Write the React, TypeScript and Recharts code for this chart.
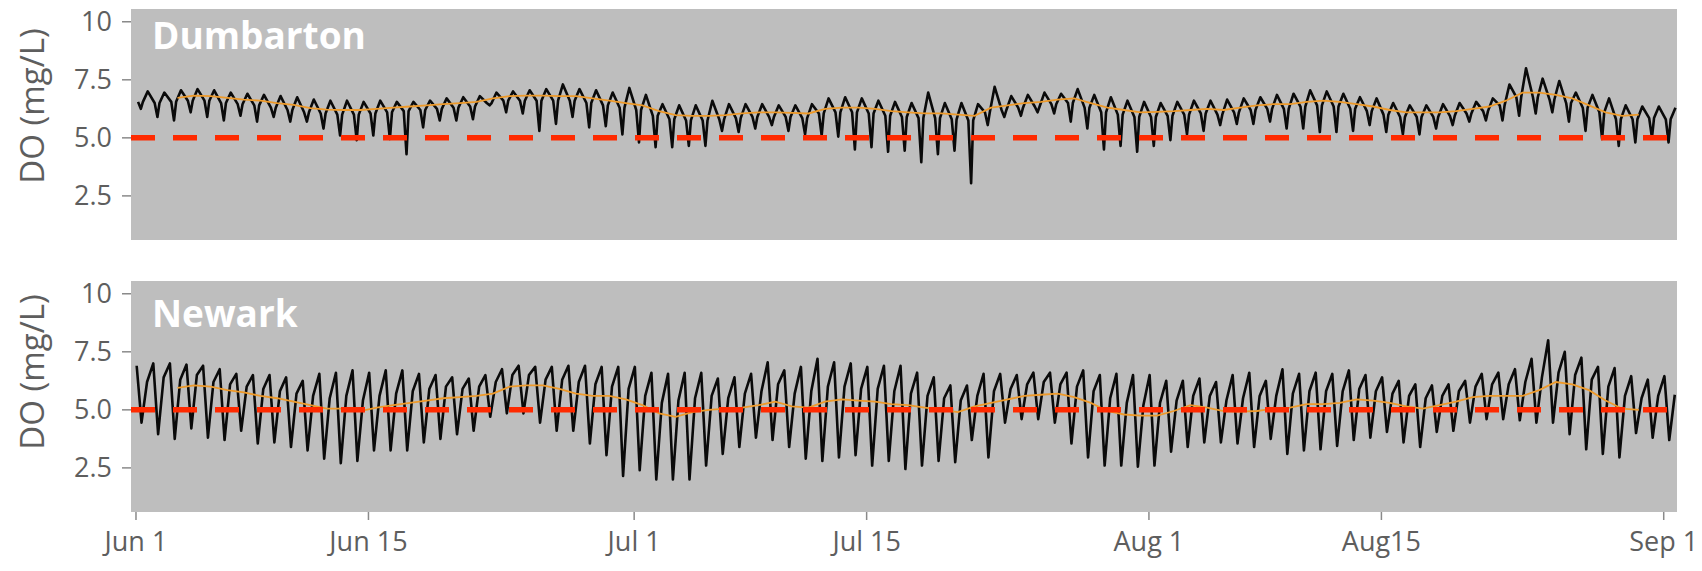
import React from 'react';
import { LineChart, Line, XAxis, YAxis, ReferenceLine, CartesianGrid } from 'recharts';

// ---- axes ----
const DATE_TICKS = [0, 14, 30, 44, 61, 75, 92]; // days since Jun 1
const DATE_LABELS = ['Jun 1', 'Jun 15', 'Jul 1', 'Jul 15', 'Aug 1', 'Aug15', 'Sep 1'];
const DO_TICKS = [2.5, 5, 7.5, 10];
const DO_LABELS = ['2.5', '5.0', '7.5', '10'];
const THRESHOLD = 5;
const STATIONS = ['Dumbarton', 'Newark'];

// ---- Dumbarton (per day: band top, band base, daily dip, 3-day mean) ----
const DUM_TOP = [
  7.0, 6.95, 7.05, 7.1, 7.05, 6.95, 6.9, 6.85, 6.8, 6.75, 6.65, 6.6, 6.6, 6.55,
  6.6, 6.55, 6.55, 6.6, 6.7, 6.75, 6.8, 6.95, 7.0, 7.05, 7.1, 7.3, 7.1, 7.05, 6.95,
  7.15, 6.85, 6.45, 6.4, 6.4, 6.6, 6.45, 6.45, 6.45, 6.4, 6.4, 6.45, 6.7, 6.75, 6.7,
  6.6, 6.55, 6.5, 6.95, 6.5, 6.5, 6.45, 7.2, 6.8, 6.85, 6.95, 6.9, 7.1, 6.85, 6.75,
  6.6, 6.55, 6.5, 6.55, 6.6, 6.6, 6.65, 6.7, 6.75, 6.85, 6.9, 7.05, 7.0, 6.9,
  6.75, 6.7, 6.5, 6.4, 6.4, 6.45, 6.5, 6.55, 6.7, 7.3, 8.0, 7.55, 7.45, 6.95, 6.85, 6.7,
  6.4, 6.35, 6.35, 6.3,
];
const DUM_BASE = [
  6.55, 6.5, 6.55, 6.6, 6.6, 6.5, 6.45, 6.4, 6.3, 6.2, 6.1, 6.05, 6.0, 6.0,
  6.05, 6.1, 6.15, 6.2, 6.25, 6.3, 6.35, 6.5, 6.6, 6.6, 6.6, 6.6, 6.6, 6.5, 6.4,
  6.3, 6.2, 5.95, 5.8, 5.75, 5.75, 5.8, 5.85, 5.9, 5.9, 5.9, 5.85, 6.05, 6.1, 6.1,
  6.05, 5.95, 5.9, 5.85, 5.85, 5.8, 5.75, 6.1, 6.2, 6.3, 6.35, 6.45, 6.5, 6.3, 6.1,
  6.0, 5.9, 5.9, 5.95, 6.0, 6.05, 6.0, 6.1, 6.2, 6.25, 6.25, 6.35, 6.4, 6.35,
  6.25, 6.15, 6.0, 5.9, 5.9, 5.9, 5.95, 6.05, 6.15, 6.4, 6.75, 6.75, 6.65, 6.5, 6.3, 6.1,
  5.8, 5.8, 5.85, 5.8,
];
const DUM_LOW = [
  6.25, 5.9, 5.75, 6.1, 5.9, 5.75, 5.95, 5.7, 5.9, 5.7, 5.7, 5.4, 5.1, 4.9,
  5.1, 4.95, 4.3, 5.45, 5.75, 5.75, 5.8, 6.4, 6.1, 6.05, 5.3, 5.6, 5.9, 5.45, 5.5,
  5.15, 4.8, 4.6, 4.6, 4.65, 4.65, 5.3, 5.25, 5.4, 5.55, 5.3, 5.15, 5.1, 5.05, 4.5,
  4.6, 4.4, 4.45, 3.95, 4.3, 4.45, 3.05, 5.55, 5.9, 5.95, 6.1, 6.05, 5.7, 5.4, 4.5,
  4.65, 4.4, 4.65, 4.9, 5.15, 5.3, 5.55, 5.6, 5.6, 5.7, 5.4, 5.4, 5.25, 5.25,
  5.3, 5.55, 5.25, 5.15, 5.15, 5.4, 5.55, 5.7, 5.75, 5.75, 5.95, 6.05, 6.1, 5.7, 5.3, 4.95,
  4.65, 4.8, 5.0, 4.8,
];
const DUM_MEAN: (number | null)[] = [
  null, null, 6.72, 6.82, 6.8, 6.72, 6.65, 6.6, 6.5, 6.42, 6.28, 6.22, 6.2, 6.2,
  6.25, 6.3, 6.35, 6.4, 6.45, 6.5, 6.55, 6.7, 6.8, 6.82, 6.82, 6.8, 6.8, 6.7, 6.6,
  6.5, 6.4, 6.15, 5.98, 5.95, 5.95, 5.98, 6.05, 6.1, 6.1, 6.08, 6.05, 6.25, 6.3, 6.3,
  6.25, 6.15, 6.1, 6.05, 6.05, 6.0, 5.95, 6.3, 6.4, 6.5, 6.55, 6.65, 6.7, 6.5, 6.3,
  6.2, 6.1, 6.12, 6.15, 6.2, 6.25, 6.2, 6.3, 6.4, 6.45, 6.45, 6.55, 6.6, 6.55,
  6.45, 6.35, 6.2, 6.1, 6.1, 6.1, 6.15, 6.25, 6.35, 6.6, 6.95, 6.95, 6.85, 6.7, 6.4, 6.1,
  5.95, 6.0, null, null,
];

// ---- Newark (per day: high, low, secondary peak, 3-day mean) ----
const NWK_HI = [
  6.9, 7.0, 7.0, 6.95, 6.9, 6.75, 6.55, 6.5, 6.5, 6.4, 6.25, 6.55, 6.6, 6.7,
  6.6, 6.7, 6.7, 6.55, 6.5, 6.4, 6.35, 6.5, 6.75, 6.9, 6.85, 6.85, 6.9, 6.9, 6.85,
  6.85, 6.85, 6.6, 6.55, 6.6, 6.6, 6.35, 6.4, 6.55, 7.05, 6.7, 6.85, 7.2, 7.05, 7.0,
  6.85, 6.9, 6.9, 6.6, 6.4, 6.05, 6.05, 6.55, 6.55, 6.5, 6.6, 6.6, 6.6, 6.7, 6.5,
  6.55, 6.5, 6.5, 6.25, 6.25, 6.35, 6.2, 6.5, 6.6, 6.25, 6.75, 6.55, 6.6, 6.55,
  6.7, 6.5, 6.4, 6.25, 6.1, 6.05, 6.1, 6.25, 6.55, 6.6, 6.75, 7.2, 8.0, 7.5, 7.25, 6.85,
  6.8, 6.45, 6.3, 6.45,
];
const NWK_LO = [
  4.45, 3.95, 3.75, 4.2, 3.8, 3.7, 4.1, 3.55, 3.6, 3.4, 3.25, 2.9, 2.7, 2.8,
  3.25, 3.25, 3.25, 3.6, 3.75, 3.95, 4.1, 4.7, 4.85, 4.85, 4.45, 4.1, 4.1, 3.55, 3.05,
  2.15, 2.4, 2.0, 2.0, 2.0, 2.6, 3.1, 3.4, 3.8, 3.7, 3.4, 2.9, 2.8, 2.95, 3.05,
  2.6, 2.8, 2.45, 2.6, 2.8, 2.75, 3.7, 2.95, 4.45, 4.6, 4.6, 4.45, 3.55, 2.95, 2.6,
  2.6, 2.55, 2.6, 3.2, 3.4, 3.6, 3.6, 3.55, 3.4, 3.75, 3.1, 3.25, 3.3, 3.45,
  3.7, 3.8, 4.05, 3.6, 3.4, 4.05, 4.1, 4.45, 4.6, 4.6, 4.55, 4.45, 4.45, 3.95, 3.3, 3.1,
  2.95, 4.0, 3.8, 3.7,
];
const NWK_MID = [
  6.2, 6.4, 6.3, 6.5, 6.2, 6.1, 6.0, 5.9, 5.8, 5.7, 5.6, 5.5, 5.6, 5.4,
  5.6, 5.7, 5.8, 5.9, 6.0, 5.9, 6.0, 6.2, 6.5, 6.5, 6.3, 6.3, 6.2, 6.1, 6.0,
  5.9, 5.6, 5.3, 5.4, 5.5, 5.6, 5.5, 5.7, 5.8, 6.1, 5.7, 5.8, 6.0, 6.0, 5.9,
  5.9, 5.8, 5.7, 5.6, 5.5, 5.4, 5.6, 5.8, 5.9, 6.1, 6.2, 6.1, 6.0, 5.8, 5.5,
  5.3, 5.2, 5.3, 5.4, 5.6, 5.6, 5.4, 5.5, 5.6, 5.6, 5.7, 5.8, 5.8, 5.8,
  5.9, 5.8, 5.7, 5.6, 5.5, 5.6, 5.8, 6.0, 6.1, 6.1, 6.2, 6.4, 6.6, 6.5, 6.3, 6.0,
  5.6, 5.5, 5.6, 5.65,
];
const NWK_MEAN: (number | null)[] = [
  null, null, 5.95, 6.05, 6.0, 5.85, 5.75, 5.6, 5.5, 5.35, 5.2, 5.05, 5.05, 4.95,
  5.1, 5.2, 5.3, 5.4, 5.5, 5.55, 5.6, 5.7, 6.0, 6.05, 6.05, 5.9, 5.7, 5.6, 5.6,
  5.45, 5.2, 4.85, 4.7, 4.9, 5.0, 5.05, 5.1, 5.2, 5.35, 5.15, 5.1, 5.35, 5.45, 5.4,
  5.35, 5.25, 5.2, 5.1, 5.0, 4.9, 5.15, 5.3, 5.45, 5.6, 5.65, 5.7, 5.55, 5.3, 4.95,
  4.8, 4.75, 4.75, 4.95, 5.2, 5.1, 4.95, 4.92, 4.95, 5.05, 5.1, 5.25, 5.25, 5.3,
  5.45, 5.4, 5.3, 5.15, 5.05, 5.2, 5.35, 5.55, 5.6, 5.6, 5.6, 5.85, 6.2, 6.1, 5.85, 5.4,
  5.05, 5.0, null, null,
];

// sample hours within each day
const DUM_HOURS = { base1: 3, low: 7, base2: 10, top: 17 };
const NWK_HOURS = { hi: 1, lo: 8, mid: 16 };

type Pt = { t: number; v: number };

const dumRaw: Pt[] = [];
DUM_TOP.forEach((top, d) => {
  dumRaw.push({ t: d + DUM_HOURS.base1 / 24, v: DUM_BASE[d] });
  dumRaw.push({ t: d + DUM_HOURS.low / 24, v: DUM_LOW[d] });
  dumRaw.push({ t: d + DUM_HOURS.base2 / 24, v: DUM_BASE[d] });
  dumRaw.push({ t: d + DUM_HOURS.top / 24, v: top });
});
const nwkRaw: Pt[] = [];
NWK_HI.forEach((hi, d) => {
  nwkRaw.push({ t: d + NWK_HOURS.hi / 24, v: hi });
  nwkRaw.push({ t: d + NWK_HOURS.lo / 24, v: NWK_LO[d] });
  nwkRaw.push({ t: d + NWK_HOURS.mid / 24, v: NWK_MID[d] });
});
const toMean = (arr: (number | null)[]): Pt[] =>
  arr
    .map((v, d) => (v === null ? null : { t: d + 0.5, v }))
    .filter((p): p is Pt => p !== null);
const dumMean = toMean(DUM_MEAN);
const nwkMean = toMean(NWK_MEAN);

const X_DOMAIN: [number, number] = [-0.3, 92.8];
const Y_DOMAIN: [number, number] = [0.6, 10.55];

const FONT = "'Open Sans', 'DejaVu Sans', sans-serif";
const TEXT_GRAY = '#5e5e5e';
const PANEL = '#bebebe';

function Panel({ raw, mean, top, height, showX, marginTop, marginBottom }: {
  raw: Pt[]; mean: Pt[]; top: number; height: number; showX: boolean; marginTop: number; marginBottom: number;
}) {
  return (
    <div style={{ position: 'absolute', left: 0, top }}>
      <LineChart width={1702} height={height} margin={{ top: marginTop, right: 25, bottom: marginBottom, left: 71 }}>
        <CartesianGrid fill={PANEL} stroke="none" horizontal={false} vertical={false} />
        <XAxis
          type="number"
          dataKey="t"
          domain={X_DOMAIN}
          allowDataOverflow
          ticks={DATE_TICKS}
          tickFormatter={(v: number) => DATE_LABELS[DATE_TICKS.indexOf(v)] ?? ''}
          hide={!showX}
          height={45}
          axisLine={false}
          tickSize={8}
          tickMargin={12}
          tickLine={{ stroke: '#8a8a8a', strokeWidth: 1.5 }}
          tick={{ fill: TEXT_GRAY, fontSize: 27, fontFamily: FONT }}
          interval={0}
        />
        <YAxis
          type="number"
          domain={Y_DOMAIN}
          allowDataOverflow
          ticks={DO_TICKS}
          tickFormatter={(v: number) => DO_LABELS[DO_TICKS.indexOf(v)] ?? ''}
          width={60}
          axisLine={false}
          tickSize={9}
          tickMargin={10}
          tickLine={{ stroke: '#8a8a8a', strokeWidth: 1.5 }}
          tick={{ fill: TEXT_GRAY, fontSize: 27, fontFamily: FONT }}
          interval={0}
        />
        <Line data={raw} dataKey="v" type="linear" stroke="#0a0a0a" strokeWidth={2.6} strokeLinejoin="round" dot={false} isAnimationActive={false} />
        <Line data={mean} dataKey="v" type="linear" stroke="#ee9a2a" strokeWidth={1.8} dot={false} isAnimationActive={false} />
        <ReferenceLine y={THRESHOLD} stroke="#ff2a00" strokeWidth={5.5} strokeDasharray="24 18" />
      </LineChart>
    </div>
  );
}

export default function App() {
  return (
    <div style={{ position: 'absolute', left: 0, top: 0, width: 1702, height: 571, background: '#fff', overflow: 'hidden' }}>
      <Panel raw={dumRaw} mean={dumMean} top={0} height={260} showX={false} marginTop={9} marginBottom={20} />
      <Panel raw={nwkRaw} mean={nwkMean} top={260} height={311} showX={true} marginTop={21} marginBottom={14} />
      <svg width={1702} height={571} style={{ position: 'absolute', left: 0, top: 0, pointerEvents: 'none' }}>
        <text x={152} y={49} fill="#ffffff" fontFamily={FONT} fontWeight={700} fontSize={37}>{STATIONS[0]}</text>
        <text x={152} y={327} fill="#ffffff" fontFamily={FONT} fontWeight={700} fontSize={37}>{STATIONS[1]}</text>
        <text x={44} y={106} transform="rotate(-90 44 106)" textAnchor="middle" fill={TEXT_GRAY} fontFamily={FONT} fontSize={33}>DO (mg/L)</text>
        <text x={44} y={372} transform="rotate(-90 44 372)" textAnchor="middle" fill={TEXT_GRAY} fontFamily={FONT} fontSize={33}>DO (mg/L)</text>
      </svg>
    </div>
  );
}
